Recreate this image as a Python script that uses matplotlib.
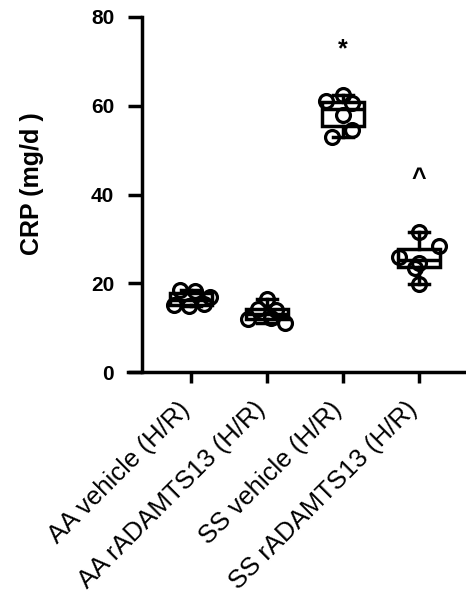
import numpy as np
import matplotlib
matplotlib.use('Agg')
from matplotlib import pyplot as plt

plt.rcParams['font.family'] = ['Liberation Sans', 'DejaVu Sans']

# Groups and CRP values (mg/dl)
groups = ['AA vehicle (H/R)', 'AA rADAMTS13 (H/R)', 'SS vehicle (H/R)', 'SS rADAMTS13 (H/R)']
aa_vehicle = [18.5, 18.2, 17.0, 15.0, 14.9, 15.3]
aa_radamts13 = [16.4, 14.3, 14.0, 11.9, 12.1, 11.0]
ss_vehicle = [62.4, 61.0, 60.6, 58.0, 54.5, 53.0]
ss_radamts13 = [31.5, 28.3, 26.0, 24.5, 23.5, 19.8]
yticks = [0, 20, 40, 60, 80]
marks = ['', '', '*', '^']
mark_y = [0, 0, 72.8, 43.4]

data = [aa_vehicle, aa_radamts13, ss_vehicle, ss_radamts13]
# horizontal scatter of the dots within each group
jitter = [
    [-0.15, 0.05, 0.25, -0.22, -0.02, 0.17],
    [0.0, -0.12, 0.12, -0.25, 0.05, 0.24],
    [0.0, -0.22, 0.12, 0.0, 0.12, -0.14],
    [0.0, 0.26, -0.26, 0.0, -0.05, 0.0],
]

fig = plt.figure(figsize=(4.66, 6.03), dpi=100)
ax = fig.add_axes([128/466, 1 - 372/603, 338/466, 355/603])

# spines first: moving a spine resets the tick labels
ax.spines['top'].set_visible(False)
ax.spines['right'].set_visible(False)
ax.spines['left'].set_position(('data', (142 - 191) / 76))
ax.spines['left'].set_linewidth(2.5)
ax.spines['bottom'].set_linewidth(2.5)

pos = np.arange(len(groups))
ax.boxplot(data, positions=pos, widths=0.55, whis=(0, 100), patch_artist=True,
           showfliers=False,
           boxprops=dict(facecolor='none', edgecolor='black', linewidth=2.5),
           medianprops=dict(color='black', linewidth=2.5),
           whiskerprops=dict(color='black', linewidth=2.5),
           capprops=dict(color='black', linewidth=2.5))

for i, vals in enumerate(data):
    ax.plot(pos[i] + np.array(jitter[i]), vals, 'o', ms=10, mfc='none',
            mec='black', mew=2.3, zorder=3)
    if marks[i]:
        ax.text(pos[i], mark_y[i], marks[i], ha='center', va='center',
                fontsize=18, fontweight='bold')

ax.tick_params(axis='y', width=2.5, length=10, pad=10)
ax.tick_params(axis='x', width=2.5, length=8, pad=20)

ax.set_ylim(0, 80)
ax.set_xlim((128 - 191) / 76, (466 - 191) / 76)
ax.set_yticks(yticks)
ax.set_yticklabels([str(t) for t in yticks], fontsize=15, fontweight='bold',
                   family=['Liberation Sans Narrow', 'Liberation Sans'])
ax.set_xticks(pos)
ax.set_xticklabels(groups, rotation=45, ha='right', va='baseline',
                   rotation_mode='anchor', fontsize=18.5)
ax.set_ylabel('CRP (mg/d )', fontsize=18, fontweight='bold')
ax.yaxis.set_label_coords(-0.25, 0.53)

fig.savefig('out.png', dpi=100)
